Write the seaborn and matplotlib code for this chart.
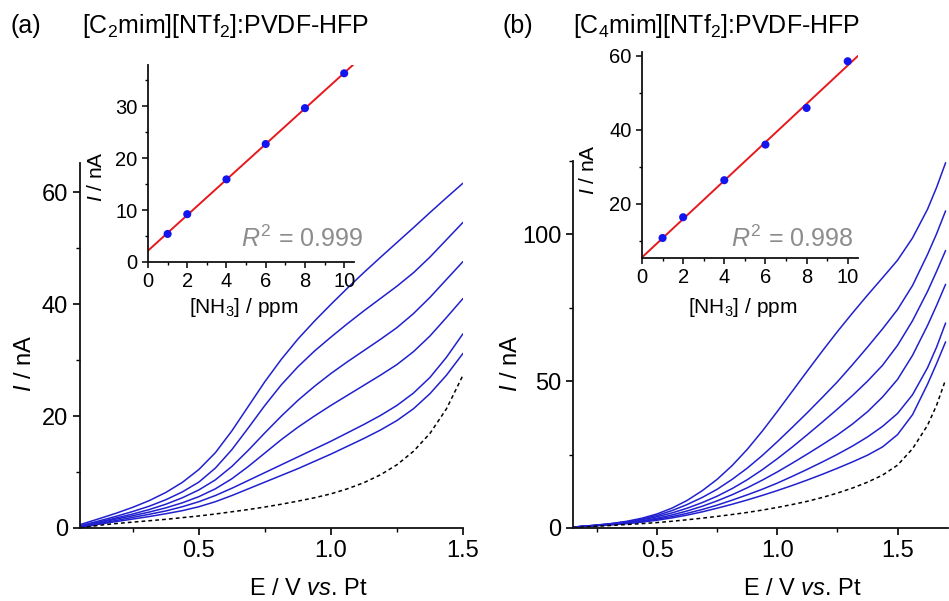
import seaborn as sns
import matplotlib.pyplot as plt
from matplotlib.ticker import MultipleLocator

sns.set_style("ticks")
plt.rcParams['font.family'] = ['Liberation Sans', 'DejaVu Sans']
plt.rcParams['mathtext.fontset'] = 'custom'
plt.rcParams['mathtext.rm'] = 'Liberation Sans'
plt.rcParams['mathtext.it'] = 'Liberation Sans:italic'
plt.rcParams['mathtext.bf'] = 'Liberation Sans:bold'
for key in ['text.color', 'axes.labelcolor', 'xtick.color', 'ytick.color']:
    plt.rcParams[key] = 'black'

BLUE = '#2020d0'
DOT_BLUE = '#1414ee'
RED = '#e5191e'
GREY = '#8c8c8c'

# inset calibration points
NH3_PPM = [1, 2, 4, 6, 8, 10]
PEAK_A = [5.4, 9.2, 15.9, 22.7, 29.6, 36.3]
PEAK_B = [10.8, 16.4, 26.4, 36.0, 45.9, 58.5]

# (a) [C2mim][NTf2] voltammograms, 10 -> 1 ppm, then blank
E_A = [0.05, 0.125, 0.1875, 0.25, 0.3125, 0.375, 0.4375, 0.5, 0.5625, 0.625, 0.6875, 0.75,
       0.8125, 0.875, 0.9375, 1.0, 1.0625, 1.125, 1.1875, 1.25, 1.3125, 1.375, 1.4375, 1.5]
I_A_10 = [0.6, 1.7, 2.65, 3.7, 4.9, 6.35, 8.15, 10.45, 13.45, 17.35, 21.75, 26.15,
          30.15, 33.75, 36.95, 39.95, 42.85, 45.65, 48.35, 51.0, 53.65, 56.35, 59.0, 61.6]
I_A_8 = [0.4, 1.3, 2.1, 2.95, 3.9, 5.05, 6.45, 8.2, 10.7, 14.0, 17.9, 21.9,
         25.6, 28.8, 31.6, 34.1, 36.5, 38.8, 41.0, 43.2, 45.6, 48.4, 51.5, 54.6]
I_A_6 = [0.3, 1.1, 1.8, 2.5, 3.3, 4.25, 5.4, 6.8, 8.6, 11.0, 13.9, 17.0,
         20.0, 22.8, 25.3, 27.6, 29.7, 31.7, 33.7, 35.8, 38.3, 41.2, 44.4, 47.6]
I_A_4 = [0.2, 0.95, 1.6, 2.2, 2.85, 3.6, 4.5, 5.6, 7.0, 8.8, 11.0, 13.4,
         15.8, 18.0, 20.0, 21.9, 23.7, 25.5, 27.3, 29.2, 31.5, 34.3, 37.6, 41.0]
I_A_2 = [0.1, 0.8, 1.35, 1.9, 2.45, 3.05, 3.8, 4.7, 5.8, 7.1, 8.5, 9.9,
         11.3, 12.7, 14.1, 15.5, 17.0, 18.5, 20.1, 21.9, 24.1, 26.9, 30.5, 34.7]
I_A_1 = [0.0, 0.7, 1.15, 1.6, 2.05, 2.55, 3.1, 3.8, 4.7, 5.8, 7.0, 8.2,
         9.4, 10.6, 11.9, 13.2, 14.6, 16.0, 17.5, 19.2, 21.3, 24.0, 27.3, 31.2]
I_A_BLANK = [0.0, 0.5, 0.8, 1.05, 1.3, 1.55, 1.85, 2.15, 2.5, 2.9, 3.3, 3.75,
             4.25, 4.8, 5.4, 6.1, 7.0, 8.1, 9.5, 11.3, 13.7, 16.9, 21.3, 27.3]

# (b) [C4mim][NTf2] voltammograms
E_B = [0.15, 0.25, 0.3125, 0.375, 0.4375, 0.5, 0.5625, 0.625, 0.6875, 0.75, 0.8125, 0.875, 0.9375,
       1.0, 1.0625, 1.125, 1.1875, 1.25, 1.3125, 1.375, 1.4375, 1.5, 1.5625, 1.625, 1.6625, 1.7]
I_B_10 = [0.3, 1.0, 1.55, 2.3, 3.35, 4.8, 6.8, 9.4, 12.7, 16.6, 21.3, 26.8, 33.0,
          39.7, 46.6, 53.5, 60.3, 66.9, 73.2, 79.3, 85.2, 91.2, 98.8, 108.6, 116.0, 124.4]
I_B_8 = [0.3, 1.0, 1.5, 2.15, 3.05, 4.3, 5.95, 8.0, 10.4, 13.2, 16.6, 20.4, 24.7,
         29.4, 34.3, 39.3, 44.5, 49.8, 55.6, 61.6, 67.8, 74.4, 82.6, 93.2, 100.2, 108.0]
I_B_6 = [0.3, 0.9, 1.35, 1.95, 2.8, 3.85, 5.15, 6.75, 8.65, 10.85, 13.45, 16.45, 19.85,
         23.6, 27.6, 31.8, 36.1, 40.5, 45.1, 50.0, 55.4, 62.2, 70.6, 80.6, 87.4, 94.5]
I_B_4 = [0.3, 0.85, 1.25, 1.75, 2.45, 3.35, 4.45, 5.8, 7.4, 9.25, 11.35, 13.7, 16.3,
         19.1, 22.1, 25.2, 28.4, 31.7, 35.4, 39.6, 44.6, 50.6, 58.8, 69.0, 75.8, 83.0]
I_B_2 = [0.3, 0.85, 1.2, 1.65, 2.25, 3.0, 3.9, 5.0, 6.3, 7.8, 9.5, 11.3, 13.2,
         15.3, 17.6, 20.0, 22.5, 25.1, 27.9, 31.0, 34.6, 39.0, 45.4, 54.6, 61.6, 69.8]
I_B_1 = [0.3, 0.8, 1.1, 1.5, 2.0, 2.65, 3.45, 4.4, 5.5, 6.75, 8.1, 9.55, 11.1,
         12.75, 14.5, 16.35, 18.3, 20.35, 22.5, 24.8, 27.6, 31.8, 38.6, 49.0, 56.0, 63.4]
I_B_BLANK = [0.1, 0.6, 0.9, 1.2, 1.5, 1.85, 2.3, 2.8, 3.35, 3.95, 4.6, 5.3, 6.1,
             7.0, 8.0, 9.1, 10.4, 11.9, 13.6, 15.6, 18.0, 21.4, 27.0, 35.0, 41.8, 50.5]


def px(x, y):
    return x / 949, 1 - y / 601


def style_axes(ax):
    ax.set_xlabel('')
    ax.set_ylabel('')
    for s in ['left', 'bottom']:
        ax.spines[s].set_linewidth(1.3)
        ax.spines[s].set_color('#111111')
    sns.despine(ax=ax)
    ax.set_facecolor('none')


def main_panel(ax, e, curves, blank, xlim, ylim, ymajor, yminor):
    for cur in curves:
        sns.lineplot(x=e, y=cur, color=BLUE, lw=1.1, ax=ax)
    sns.lineplot(x=e, y=blank, color='black', lw=1.1, ls=(0, (2.5, 2)), ax=ax)
    ax.set_xlim(*xlim)
    ax.set_ylim(*ylim)
    ax.xaxis.set_major_locator(MultipleLocator(0.5))
    ax.xaxis.set_minor_locator(MultipleLocator(0.25))
    ax.yaxis.set_major_locator(MultipleLocator(ymajor))
    ax.yaxis.set_minor_locator(MultipleLocator(yminor))
    ax.tick_params(which='major', direction='out', length=5, width=1.2, labelsize=17)
    ax.tick_params(which='minor', direction='out', length=3, width=1.0)
    style_axes(ax)


def inset_panel(ax, peak, ylim, ymajor, yminor):
    ax.set_xlim(0, 10.5)
    ax.set_ylim(*ylim)
    sns.regplot(x=NH3_PPM, y=peak, ax=ax, ci=None, truncate=False, scatter=False,
                line_kws=dict(color=RED, lw=1.4))
    sns.scatterplot(x=NH3_PPM, y=peak, ax=ax, color=DOT_BLUE, s=34,
                    edgecolor='none', zorder=4)
    ax.set_xlim(0, 10.5)
    ax.set_ylim(*ylim)
    ax.xaxis.set_major_locator(MultipleLocator(2))
    ax.xaxis.set_minor_locator(MultipleLocator(1))
    ax.yaxis.set_major_locator(MultipleLocator(ymajor))
    ax.yaxis.set_minor_locator(MultipleLocator(yminor))
    ax.tick_params(which='major', direction='out', length=4, width=1.1, labelsize=14.5)
    ax.tick_params(which='minor', direction='out', length=2.5, width=1.0)
    style_axes(ax)


fig = plt.figure(figsize=(9.49, 6.01), dpi=100)

ax_a = fig.add_axes([80 / 949, 73 / 601, 383 / 949, 365 / 601])
ax_b = fig.add_axes([573 / 949, 73 / 601, 375 / 949, 367 / 601])
main_panel(ax_a, E_A, [I_A_10, I_A_8, I_A_6, I_A_4, I_A_2, I_A_1], I_A_BLANK,
           (0.05, 1.5), (0, 65.2), 20, 10)
main_panel(ax_b, E_B, [I_B_10, I_B_8, I_B_6, I_B_4, I_B_2, I_B_1], I_B_BLANK,
           (0.15, 1.71), (0, 125), 50, 25)

in_a = fig.add_axes([148 / 949, (601 - 262) / 601, 206 / 949, 197 / 601])
in_b = fig.add_axes([642 / 949, (601 - 258) / 601, 216 / 949, 206 / 601])
inset_panel(in_a, PEAK_A, (0, 37.9), 10, 5)
inset_panel(in_b, PEAK_B, (5.4, 61), 20, 10)

# panel titles
fig.text(*px(10, 33.5), '(a)', fontsize=18, ha='left', va='baseline')
fig.text(*px(82, 33.5), '[C$_2$mim][NTf$_2$]:PVDF-HFP', fontsize=18, ha='left', va='baseline')
fig.text(*px(502, 33.5), '(b)', fontsize=18, ha='left', va='baseline')
fig.text(*px(573, 33.5), '[C$_4$mim][NTf$_2$]:PVDF-HFP', fontsize=18, ha='left', va='baseline')

# axis labels
for x in (25, 511):
    fig.text(*px(x, 363), '$I$ / nA', fontsize=17, rotation=90, ha='center', va='center')
for x in (308, 802):
    fig.text(*px(x, 595), 'E / V $vs$. Pt', fontsize=17, ha='center', va='baseline')
fig.text(*px(97, 177), '$I$ / nA', fontsize=15, rotation=90, ha='center', va='center')
fig.text(*px(588, 170), '$I$ / nA', fontsize=15, rotation=90, ha='center', va='center')
fig.text(*px(244, 313), '[NH$_3$] / ppm', fontsize=15, ha='center', va='baseline')
fig.text(*px(743, 313), '[NH$_3$] / ppm', fontsize=15, ha='center', va='baseline')

# fit quality
fig.text(*px(363, 246.5), '$R^2$ = 0.999', fontsize=18, color=GREY, ha='right', va='baseline')
fig.text(*px(853, 246.5), '$R^2$ = 0.998', fontsize=18, color=GREY, ha='right', va='baseline')

fig.savefig('out.png', dpi=100)
